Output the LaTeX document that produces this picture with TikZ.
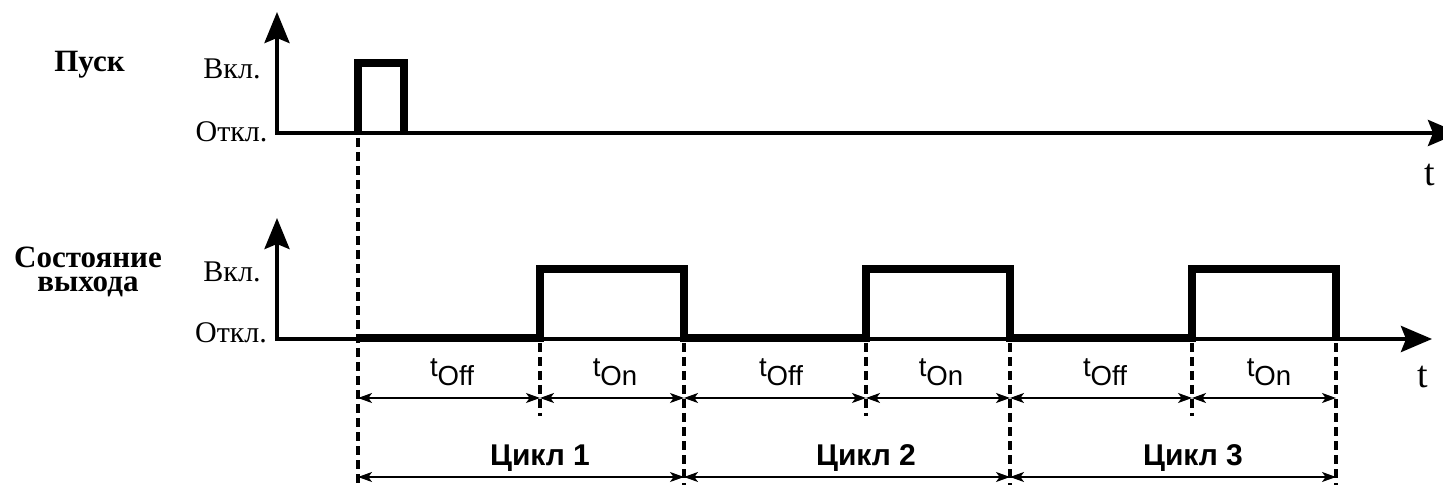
\documentclass[tikz,border=0pt]{standalone}
\usepackage{fontspec}
\setmainfont{Liberation Serif}
\setsansfont{Liberation Sans}
\usetikzlibrary{arrows.meta}
\begin{document}
\begin{tikzpicture}[x=0.5pt,y=-0.5pt,
  axisline/.style={line width=2pt, line join=miter,
    {Stealth[length=15.5pt,width=12.5pt,inset=2.5pt]}-{Stealth[length=15.5pt,width=13pt,inset=2.5pt]}},
  sig/.style={line width=4pt, line join=miter, line cap=butt},
  guide/.style={line width=2pt, dash pattern=on 4.5pt off 2.5pt},
  dim/.style={line width=0.6pt,
    {Stealth[length=7pt,width=5pt,inset=1.8pt]}-{Stealth[length=7pt,width=5pt,inset=1.8pt]}},
  lvl/.style={font=\fontsize{15pt}{17pt}\selectfont, anchor=base, inner sep=0pt},
  tax/.style={font=\fontsize{19pt}{21pt}\selectfont, anchor=base, inner sep=0pt},
  ttl/.style={font=\fontsize{15.5pt}{12pt}\selectfont\bfseries, inner sep=0pt, align=center},
  tlab/.style={font=\sffamily\fontsize{13.8pt}{16pt}\selectfont, anchor=base, inner sep=0pt},
  cyc/.style={font=\sffamily\bfseries\fontsize{15pt}{17pt}\selectfont, anchor=base, inner sep=0pt}
]
\useasboundingbox (0,0) rectangle (1443,485);

% ---------- top chart ----------
\coordinate (ytop) at (277,12);
\coordinate (xtop) at (1459,133);
\draw[axisline] (ytop) |- (xtop);
\coordinate (p0) at (358,133);
\coordinate (p1) at (358,63);
\coordinate (p2) at (404,63);
\coordinate (p3) at (404,133);
\draw[sig] (p0) -- (p1) -- (p2) -- (p3);

\node[ttl, anchor=base] (pusk) at (89.5,72) {Пуск};
\node[lvl] (on1) at (232,79) {Вкл.};
\node[lvl] (off1) at (231.5,142) {Откл.};
\node[tax] (t1) at (1430,186) {t};

% ---------- bottom chart ----------
\coordinate (ybot) at (277,218);
\coordinate (xbot) at (1432,339);
\draw[axisline] (ybot) |- (xbot);

\coordinate (a0) at (358,338);
\coordinate (a1) at (540,338);  \coordinate (b1) at (540,269);
\coordinate (a2) at (684,338);  \coordinate (b2) at (684,269);
\coordinate (a3) at (866,338);  \coordinate (b3) at (866,269);
\coordinate (a4) at (1010,338); \coordinate (b4) at (1010,269);
\coordinate (a5) at (1192,338); \coordinate (b5) at (1192,269);
\coordinate (a6) at (1336,338); \coordinate (b6) at (1336,269);
\draw[sig] (a0) -- (a1) -- (b1) -- (b2) -- (a2) -- (a3) -- (b3) -- (b4) -- (a4)
  -- (a5) -- (b5) -- (b6) -- (a6);

\node[ttl, anchor=north] (state) at (88,247) {Состояние\\выхода};
\node[lvl] (on2) at (232,282) {Вкл.};
\node[lvl] (off2) at (231,343) {Откл.};
\node[tax] (t2) at (1423,388) {t};

% ---------- guide lines ----------
\coordinate (g0a) at (358,138); \coordinate (g0b) at (358,485);
\coordinate (g1a) at (540,343); \coordinate (g1b) at (540,416);
\coordinate (g2a) at (684,343); \coordinate (g2b) at (684,485);
\coordinate (g3a) at (866,343); \coordinate (g3b) at (866,416);
\coordinate (g4a) at (1010,343); \coordinate (g4b) at (1010,485);
\coordinate (g5a) at (1192,343); \coordinate (g5b) at (1192,416);
\coordinate (g6a) at (1336,343); \coordinate (g6b) at (1336,485);
\foreach \i in {0,...,6} \draw[guide] (g\i a) -- (g\i b);

% ---------- dimension lines ----------
\foreach \i/\x in {0/358,1/540,2/684,3/866,4/1010,5/1192,6/1336}
  \coordinate (d\i) at (\x,398);
\foreach \i/\j in {0/1,1/2,2/3,3/4,4/5,5/6} \draw[dim] (d\i) -- (d\j);
\foreach \i/\x in {0/358,2/684,4/1010,6/1336}
  \coordinate (c\i) at (\x,477);
\foreach \i/\j in {0/2,2/4,4/6} \draw[dim] (c\i) -- (c\j);

\node[tlab] (toff1) at (452,377) {t\raisebox{-4.5pt}{Off}};
\node[tlab] (ton1)  at (615,377) {t\raisebox{-4.5pt}{On}};
\node[tlab] (toff2) at (781,377) {t\raisebox{-4.5pt}{Off}};
\node[tlab] (ton2)  at (941,377) {t\raisebox{-4.5pt}{On}};
\node[tlab] (toff3) at (1105,377) {t\raisebox{-4.5pt}{Off}};
\node[tlab] (ton3)  at (1269,377) {t\raisebox{-4.5pt}{On}};

\node[cyc] (cyc1) at (540,465) {Цикл 1};
\node[cyc] (cyc2) at (866,465) {Цикл 2};
\node[cyc] (cyc3) at (1193,465) {Цикл 3};
\end{tikzpicture}
\end{document}
